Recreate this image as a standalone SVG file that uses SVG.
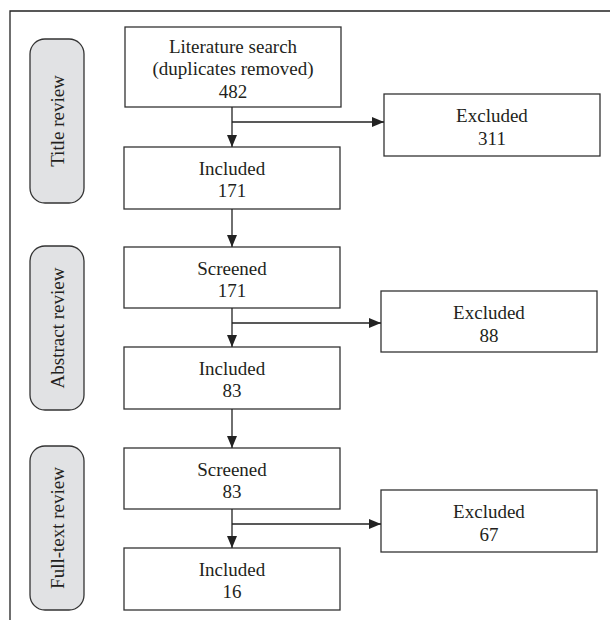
<svg xmlns="http://www.w3.org/2000/svg" width="610" height="620" viewBox="0 0 610 620">
<style>
.box{fill:#fff;stroke:#333;stroke-width:1.3}
.pill{fill:#e1e2e4;stroke:#333;stroke-width:1.3}
.t{font-family:"Liberation Serif","Times New Roman",serif;font-size:19px;fill:#231f20;text-anchor:middle}
.ln{fill:none;stroke:#222;stroke-width:1.3}
</style>
<defs>
<marker id="ah" viewBox="0 0 12 10" refX="12" refY="5" markerWidth="12" markerHeight="10" markerUnits="userSpaceOnUse" orient="auto">
<path d="M0,0 L12,5 L0,10 Z" fill="#222"/>
</marker>
</defs>
<rect width="610" height="620" fill="#fff"/>
<path class="ln" d="M10,620 V11 H610" stroke="#333"/>

<g id="stage-title">
<rect class="pill" x="30" y="39" width="54" height="164" rx="15"/>
<text class="t" transform="translate(64,121) rotate(-90)">Title review</text>
</g>
<g id="stage-abstract">
<rect class="pill" x="30" y="246" width="54" height="164" rx="15"/>
<text class="t" transform="translate(64,328) rotate(-90)">Abstract review</text>
</g>
<g id="stage-fulltext">
<rect class="pill" x="30" y="446" width="54" height="164" rx="15"/>
<text class="t" transform="translate(64,528) rotate(-90)">Full-text review</text>
</g>

<g id="lit">
<rect class="box" x="125" y="27" width="216" height="80"/>
<text class="t" x="233" y="53">Literature search</text>
<text class="t" x="233" y="75">(duplicates removed)</text>
<text class="t" x="233" y="98">482</text>
</g>
<g id="inc171">
<rect class="box" x="124" y="147" width="216" height="62"/>
<text class="t" x="232" y="175">Included</text>
<text class="t" x="232" y="197">171</text>
</g>
<g id="scr171">
<rect class="box" x="124" y="247" width="216" height="61"/>
<text class="t" x="232" y="275">Screened</text>
<text class="t" x="232" y="297">171</text>
</g>
<g id="inc83">
<rect class="box" x="124" y="347" width="216" height="62"/>
<text class="t" x="232" y="375">Included</text>
<text class="t" x="232" y="397">83</text>
</g>
<g id="scr83">
<rect class="box" x="124" y="448" width="216" height="61"/>
<text class="t" x="232" y="476">Screened</text>
<text class="t" x="232" y="498">83</text>
</g>
<g id="inc16">
<rect class="box" x="124" y="548" width="216" height="62"/>
<text class="t" x="232" y="576">Included</text>
<text class="t" x="232" y="598">16</text>
</g>
<g id="exc311">
<rect class="box" x="384" y="94" width="216" height="62"/>
<text class="t" x="492" y="122">Excluded</text>
<text class="t" x="492" y="145">311</text>
</g>
<g id="exc88">
<rect class="box" x="381" y="291" width="216" height="61"/>
<text class="t" x="489" y="319">Excluded</text>
<text class="t" x="489" y="342">88</text>
</g>
<g id="exc67">
<rect class="box" x="381" y="490" width="216" height="62"/>
<text class="t" x="489" y="518">Excluded</text>
<text class="t" x="489" y="541">67</text>
</g>

<g id="connectors">
<line class="ln" x1="232" y1="107" x2="232" y2="147" marker-end="url(#ah)"/>
<line class="ln" x1="232" y1="122" x2="384" y2="122" marker-end="url(#ah)"/>
<line class="ln" x1="232" y1="209" x2="232" y2="247" marker-end="url(#ah)"/>
<line class="ln" x1="232" y1="308" x2="232" y2="347" marker-end="url(#ah)"/>
<line class="ln" x1="232" y1="323" x2="381" y2="323" marker-end="url(#ah)"/>
<line class="ln" x1="232" y1="409" x2="232" y2="448" marker-end="url(#ah)"/>
<line class="ln" x1="232" y1="509" x2="232" y2="548" marker-end="url(#ah)"/>
<line class="ln" x1="232" y1="524" x2="381" y2="524" marker-end="url(#ah)"/>
</g>
</svg>
